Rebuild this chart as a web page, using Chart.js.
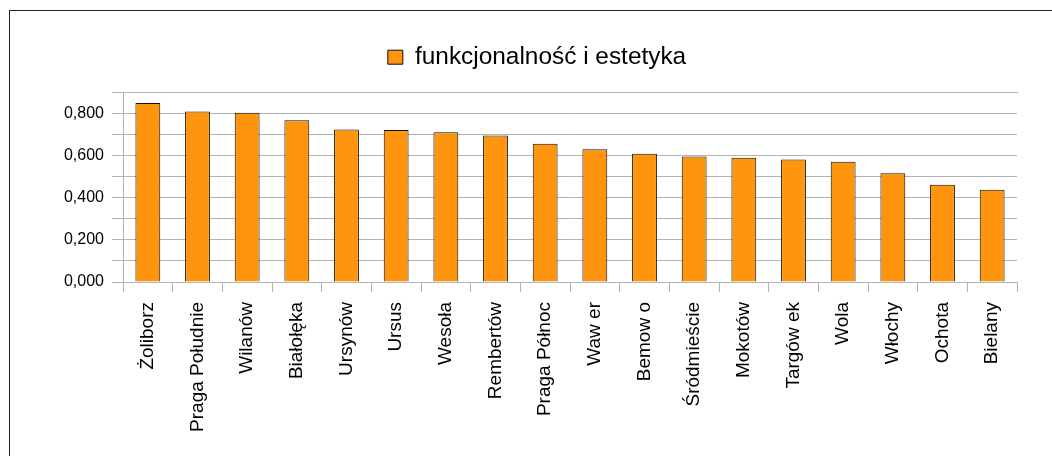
<!DOCTYPE html>
<html>
<head>
<meta charset="utf-8">
<script src="https://cdn.jsdelivr.net/npm/chart.js@4/dist/chart.umd.min.js"></script>
<style>
    body { margin: 0; background: #fff; overflow: hidden; }
    #wrap { position: relative; width: 1052px; height: 456px; }
    #frame { position: absolute; left: 9px; top: 10px; width: 2000px; height: 2000px;
             border-left: 1px solid #222; border-top: 1px solid #222; }
    canvas { position: absolute; left: 0; top: 0; }
</style>
</head>
<body>
<div id="wrap">
    <div id="frame"></div>
    <canvas id="scoreChart" width="1052" height="456"></canvas>
</div>
<script>
    // dzielnice
    const districts = ['Żoliborz', 'Praga Południe', 'Wilanów', 'Białołęka', 'Ursynów', 'Ursus', 'Wesoła',
        'Rembertów', 'Praga Północ', 'Waw er', 'Bemow o', 'Śródmieście', 'Mokotów', 'Targów ek',
        'Wola', 'Włochy', 'Ochota', 'Bielany'];

    // wartości
    const scores = [0.850, 0.809, 0.803, 0.768, 0.724, 0.722, 0.711, 0.696, 0.656,
        0.630, 0.609, 0.596, 0.590, 0.582, 0.571, 0.516, 0.462, 0.438];

    // linie siatki osi Y (etykiety co drugą)
    const yTicks = [0, 0.1, 0.2, 0.3, 0.4, 0.5, 0.6, 0.7, 0.8, 0.9];
    const yLabels = ['0,000', '', '0,200', '', '0,400', '', '0,600', '', '0,800', ''];

    const seriesName = 'funkcjonalność i estetyka';

    const gridColor = '#b3b3b3';
    Chart.defaults.font.family = '"Liberation Sans", Arial, sans-serif';
    Chart.defaults.color = '#000';

    // trochę więcej miejsca pod legendą
    const legendGap = {
        id: 'legendGap',
        beforeInit(chart) {
            const fit = chart.legend.fit;
            chart.legend.fit = function () {
                fit.call(this);
                this.height += 13;
            };
        }
    };

    const ctx = document.getElementById('scoreChart').getContext('2d');

    const scoreChart = new Chart(ctx, {
        type: 'bar',
        data: {
            labels: districts,
            datasets: [{
                label: seriesName,
                data: scores,
                backgroundColor: '#ff950e',
                borderColor: '#111',
                borderWidth: 1,
                categoryPercentage: 1,
                barPercentage: 0.5
            }]
        },
        options: {
            responsive: false,
            animation: false,
            layout: { padding: { left: 57, right: 35, top: 35, bottom: 20 } },
            plugins: {
                tooltip: { enabled: false },
                legend: {
                    position: 'top',
                    labels: {
                        font: { size: 24.4 },
                        boxWidth: 15,
                        boxHeight: 14,
                        padding: 10
                    }
                }
            },
            scales: {
                x: {
                    afterFit: (s) => { s.height = 154; },
                    grid: {
                        offset: true,
                        drawOnChartArea: true,
                        color: (c) => (c.index === 0 || c.index === districts.length) ? gridColor : 'transparent',
                        tickColor: gridColor,
                        tickLength: 10
                    },
                    border: { color: gridColor },
                    ticks: {
                        autoSkip: false,
                        maxRotation: 90,
                        minRotation: 90,
                        padding: 10,
                        font: { size: 19 }
                    }
                },
                // tylko górna krawędź obszaru wykresu
                xTop: {
                    position: 'top',
                    afterFit: (s) => { s.height = 0; },
                    grid: { display: false },
                    border: { color: gridColor },
                    ticks: { display: false }
                },
                y: {
                    min: yTicks[0],
                    max: yTicks[yTicks.length - 1],
                    afterFit: (s) => { s.width = 66; },
                    afterBuildTicks: (s) => { s.ticks = yTicks.map(v => ({ value: v })); },
                    grid: { color: gridColor, tickLength: 11 },
                    border: { color: gridColor },
                    ticks: {
                        autoSkip: false,
                        padding: 8,
                        font: { size: 16 },
                        callback: (v, i) => yLabels[i]
                    }
                }
            }
        },
        plugins: [legendGap]
    });
</script>
</body>
</html>
